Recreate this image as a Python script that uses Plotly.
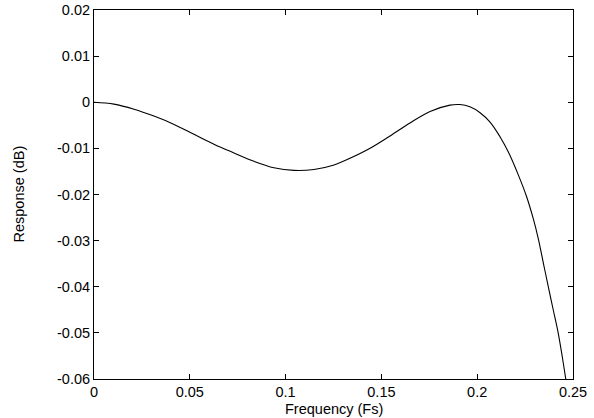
import plotly.graph_objects as go

freq = [0.0, 0.0104, 0.0209, 0.0313, 0.0418, 0.0522, 0.0626, 0.0731, 0.0835, 0.0939,
        0.1044, 0.1148, 0.1253, 0.1336, 0.1441, 0.1545, 0.1649, 0.1754, 0.1858, 0.1910,
        0.1962, 0.2015, 0.2067, 0.2119, 0.2162, 0.2215, 0.2258, 0.2293, 0.2319, 0.2345,
        0.2371, 0.2397, 0.2423, 0.2444, 0.2463]
response = [0.0, -0.00040, -0.00150, -0.00300, -0.00480, -0.00695, -0.00910, -0.01100,
            -0.01280, -0.01420, -0.01478, -0.01458, -0.01360, -0.01215, -0.00998, -0.00732,
            -0.00450, -0.00200, -0.00062, -0.00050, -0.00100, -0.00227, -0.00430, -0.00747,
            -0.01075, -0.01580, -0.02048, -0.02530, -0.02960, -0.03480, -0.03999, -0.04504,
            -0.05009, -0.05517, -0.06020]

x_ticks = [0, 0.05, 0.1, 0.15, 0.2, 0.25]
x_labels = ["0", "0.05", "0.1", "0.15", "0.2", "0.25"]
y_ticks = [0.02, 0.01, 0, -0.01, -0.02, -0.03, -0.04, -0.05, -0.06]
y_labels = ["0.02", "0.01", "0", "-0.01", "-0.02", "-0.03", "-0.04", "-0.05", "-0.06"]

fig = go.Figure()
fig.add_trace(go.Scatter(x=freq, y=response, mode="lines",
                         line=dict(color="black", width=1.1, shape="spline", smoothing=1.0),
                         showlegend=False, hoverinfo="skip", cliponaxis=True))

font = dict(family="Liberation Sans, Arial, sans-serif", size=14.5, color="black")
axis_common = dict(showgrid=False, zeroline=False, showline=True, linecolor="black",
                   linewidth=1, mirror="ticks", ticks="inside", ticklen=5,
                   tickcolor="black", tickwidth=1, tickfont=font, automargin=False)

fig.update_layout(
    width=594, height=418,
    margin=dict(l=94, r=21, t=10, b=39),
    paper_bgcolor="white", plot_bgcolor="white",
    font=font,
    xaxis=dict(range=[0, 0.25], tickvals=x_ticks, ticktext=x_labels, **axis_common),
    yaxis=dict(range=[-0.06, 0.02], tickvals=y_ticks, ticktext=y_labels, **axis_common),
    annotations=[
        dict(text="Frequency (Fs)", xref="paper", yref="paper", x=0.5, y=0,
             xanchor="center", yanchor="middle", yshift=-30, showarrow=False, font=font),
        dict(text="Response (dB)", xref="paper", yref="paper", x=0, y=0.5,
             xanchor="center", yanchor="middle", xshift=-76, textangle=-90,
             showarrow=False, font=font),
    ],
)

fig.write_html("out.html", config={"displayModeBar": False},
               post_script="document.body.style.margin='0px';document.body.style.overflow='hidden';")
